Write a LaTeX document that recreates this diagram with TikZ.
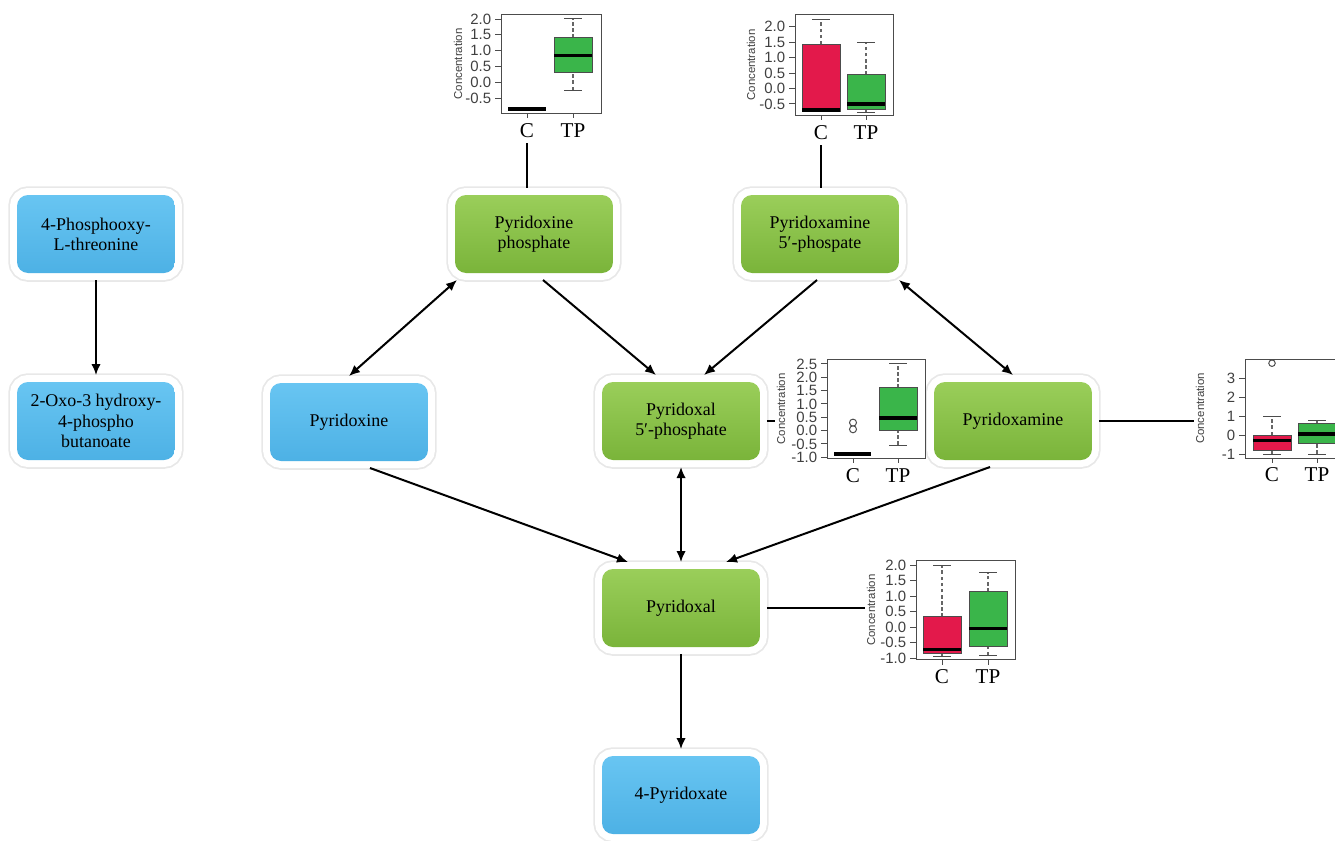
\documentclass[tikz,border=0pt]{standalone}
\usepackage{fontspec}
\setmainfont{Liberation Serif}
\setsansfont{Liberation Sans}
\usetikzlibrary{arrows.meta,positioning}

\definecolor{grnTop}{HTML}{9ACE5A}
\definecolor{grnBot}{HTML}{7AB43A}
\definecolor{bluTop}{HTML}{68C5F2}
\definecolor{bluBot}{HTML}{4DB1E5}
\definecolor{boxred}{HTML}{E3194B}
\definecolor{boxgreen}{HTML}{3AB54A}

% one box with whiskers: x, low, q1, median, q3, high, colour
\newcommand{\bxw}[7]{%
  \draw[whisk] (#1,#2) -- (#1,#3) (#1,#5) -- (#1,#6);
  \draw[frm] (#1-9,#2) -- (#1+9,#2) (#1-9,#6) -- (#1+9,#6);
  \filldraw[bxs, fill=#7] (#1-19,#3) rectangle (#1+19,#5);
  \draw[med] (#1-19,#4) -- (#1+19,#4);}

\tikzset{
  met/.style={rounded corners=0.22cm, minimum width=3.16cm, minimum height=1.56cm,
    inner sep=2pt, align=center, text=black, font=\fontsize{10.2}{11.5}\selectfont,
    outer sep=0.14cm, preaction={draw=black!9, line width=0.35cm},
    preaction={draw=white, line width=0.28cm}},
  grn/.style={met, top color=grnTop, bottom color=grnBot},
  blu/.style={met, top color=bluTop, bottom color=bluBot},
  frm/.style={draw=black!70, line width=0.02cm},
  bxs/.style={draw=black!70, line width=0.02cm},
  whisk/.style={draw=black!60, line width=0.03cm, dash pattern=on 2pt off 1.5pt},
  med/.style={draw=black, line width=0.07cm},
  ytl/.style={anchor=east, inner sep=2pt, text=black!75, font=\fontsize{8.5}{10}\sffamily},
  xtl/.style={anchor=base, font=\fontsize{12}{14}\selectfont},
  conc/.style={rotate=90, inner sep=1pt, text=black!75, font=\fontsize{6.5}{7}\sffamily}
}

\begin{document}
\begin{tikzpicture}[x=0.02cm, y=-0.02cm,
  arr/.style={line width=0.04cm, -{Latex[length=0.22cm, width=0.19cm]}},
  darr/.style={line width=0.04cm, {Latex[length=0.22cm, width=0.19cm]}-{Latex[length=0.22cm, width=0.19cm]}},
  link/.style={line width=0.04cm}]
\useasboundingbox (0,0) rectangle (1335,840);

% metabolites
\node[blu] (thr) at (96,234) {4-Phosphooxy-\\L-threonine};
\node[blu] (oxo) at (96,421) {2-Oxo-3 hydroxy-\\4-phospho\\butanoate};
\node[grn] (pnp) at (534,234) {Pyridoxine\\phosphate};
\node[grn] (pmp) at (820,234) {Pyridoxamine\\5′-phospate};
\node[blu] (pn) at (349,422) {Pyridoxine};
\node[grn] (plp) at (681,421) {Pyridoxal\\5′-phosphate};
\node[grn] (pm) at (1013,421) {Pyridoxamine};
\node[grn] (pl) at (681,608) {Pyridoxal};
\node[blu] (pa) at (681,795) {4-Pyridoxate};

% reactions
\draw[arr] (thr) -- (oxo);
\draw[darr] ([shift={(9,0)}]pnp.south west) -- (pn.north);
\draw[arr] ([shift={(9,0)}]pnp.south) -- ([shift={(-25,0)}]plp.north);
\draw[arr] ([shift={(-3,0)}]pmp.south) -- ([shift={(23,0)}]plp.north);
\draw[darr] ([shift={(-7,0)}]pmp.south east) -- (pm.north);
\draw[arr] ([shift={(21,0)}]pn.south) -- ([shift={(-53,0)}]pl.north);
\draw[darr] (plp) -- (pl);
\draw[arr] ([shift={(-23,0)}]pm.south) -- ([shift={(45,0)}]pl.north);
\draw[arr] (pl) -- (pa);

% box plot 1: pyridoxine phosphate
\begin{scope}[shift={(501,82.2)}, y=0.632cm]
  \draw[frm] (0,-0.975) rectangle (100,2.13);
  \foreach \v in {-0.5,0.0,0.5,1.0,1.5,2.0} {\draw[frm] (0,\v) -- ++(-6,0); \node[ytl] at (-6,\v) {\v};}
  \foreach \t/\s in {26/C,72/TP} {\draw[frm] (\t,-0.975) -- ++(0cm,-0.1cm);
    \node[xtl] (p1\s) at ([yshift=-0.48cm]\t,-0.975) {\s};}
  \node[conc] (k1) at (-43,0.58) {Concentration};
  \draw[med] (7,-0.85) -- (45,-0.85);
  \bxw{72}{-0.25}{0.3}{0.85}{1.4}{2.02}{boxgreen}
\end{scope}

% box plot 2: pyridoxamine 5'-phosphate
\begin{scope}[shift={(795,88.5)}, y=0.618cm]
  \draw[frm] (0,-0.86) rectangle (98,2.38);
  \foreach \v in {-0.5,0.0,0.5,1.0,1.5,2.0} {\draw[frm] (0,\v) -- ++(-6,0); \node[ytl] at (-6,\v) {\v};}
  \foreach \t/\s in {26/C,71/TP} {\draw[frm] (\t,-0.86) -- ++(0cm,-0.1cm);
    \node[xtl] (p2\s) at ([yshift=-0.48cm]\t,-0.86) {\s};}
  \node[conc] (k2) at (-44,0.76) {Concentration};
  \bxw{26}{-0.75}{-0.73}{-0.69}{1.43}{2.22}{boxred}
  \bxw{71}{-0.78}{-0.67}{-0.5}{0.44}{1.48}{boxgreen}
\end{scope}

% box plot 3: pyridoxal 5'-phosphate
\begin{scope}[shift={(827,430.6)}, y=0.5334cm]
  \draw[frm] (0,-1.03) rectangle (98,2.65);
  \foreach \v in {-1.0,-0.5,0.0,0.5,1.0,1.5,2.0,2.5} {\draw[frm] (0,\v) -- ++(-6,0); \node[ytl] at (-6,\v) {\v};}
  \foreach \t/\s in {26/C,71/TP} {\draw[frm] (\t,-1.03) -- ++(0cm,-0.1cm);
    \node[xtl] (p3\s) at ([yshift=-0.48cm]\t,-1.03) {\s};}
  \node[conc] (k3) at (-46,0.81) {Concentration};
  \draw[med] (7,-0.88) -- (44,-0.88);
  \draw[bxs] (26,0.05) circle[radius=0.07cm] (26,0.3) circle[radius=0.07cm];
  \bxw{71}{-0.54}{0.0}{0.47}{1.6}{2.53}{boxgreen}
\end{scope}

% box plot 4: pyridoxamine
\begin{scope}[shift={(1245,435)}, y=0.38cm]
  \clip (-70,-4.5) rectangle (90,4.5);
  \draw[frm] (0,-1.21) rectangle (100,4.0);
  \foreach \v in {-1,0,1,2,3} {\draw[frm] (0,\v) -- ++(-6,0); \node[ytl] at (-6,\v) {\v};}
  \foreach \t/\s in {27/C,72/TP} {\draw[frm] (\t,-1.21) -- ++(0cm,-0.1cm);
    \node[xtl] (p4\s) at ([yshift=-0.48cm]\t,-1.21) {\s};}
  \node[conc] (k4) at (-45,1.4) {Concentration};
  \bxw{27}{-1.0}{-0.8}{-0.28}{0.0}{0.96}{boxred}
  \draw[bxs] (27,3.78) circle[radius=0.065cm];
  \bxw{72}{-1.0}{-0.47}{0.05}{0.58}{0.75}{boxgreen}
\end{scope}

% box plot 5: pyridoxal
\begin{scope}[shift={(916,627.2)}, y=0.622cm]
  \draw[frm] (0,-1.05) rectangle (99,2.16);
  \foreach \v in {-1.0,-0.5,0.0,0.5,1.0,1.5,2.0} {\draw[frm] (0,\v) -- ++(-6,0); \node[ytl] at (-6,\v) {\v};}
  \foreach \t/\s in {26/C,72/TP} {\draw[frm] (\t,-1.05) -- ++(0cm,-0.1cm);
    \node[xtl] (p5\s) at ([yshift=-0.48cm]\t,-1.05) {\s};}
  \node[conc] (k5) at (-45,0.55) {Concentration};
  \bxw{26}{-0.93}{-0.84}{-0.71}{0.33}{2.0}{boxred}
  \bxw{72}{-0.9}{-0.63}{-0.04}{1.14}{1.75}{boxgreen}
\end{scope}

% links to the box plots
\draw[link] (p1C.south) -- (p1C.south |- pnp.north);
\draw[link] (p2C.south) -- (p2C.south |- pmp.north);
\draw[link] (plp.east) -- (plp.east -| k3.north);
\draw[link] (pm.east) -- (pm.east -| k4.north);
\draw[link] (pl.east) -- (pl.east -| k5.north);
\end{tikzpicture}
\end{document}
